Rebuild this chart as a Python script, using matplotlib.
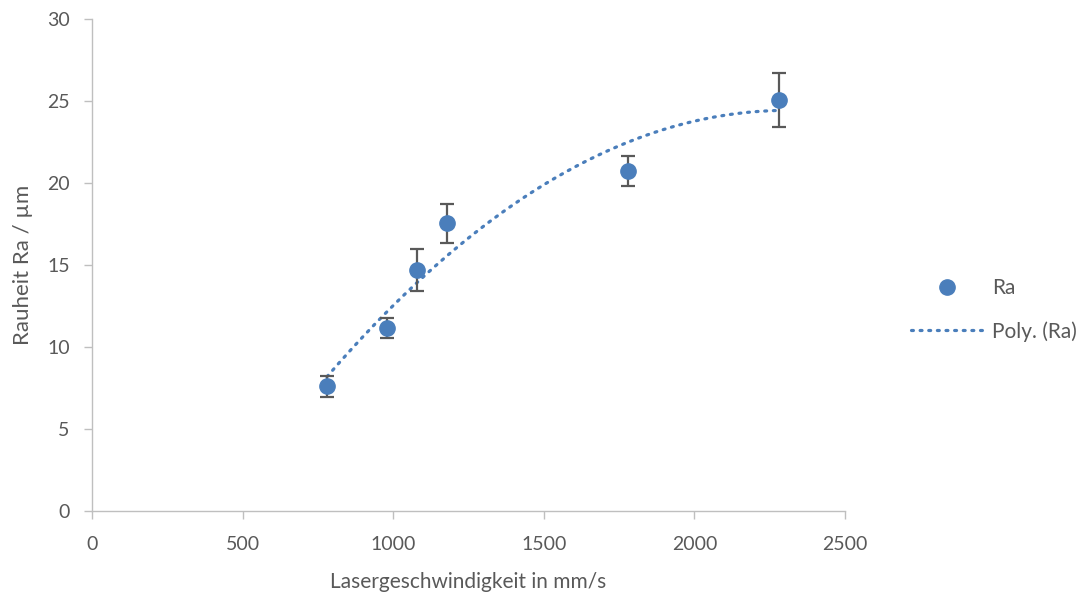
import matplotlib.pyplot as plt
import numpy as np

plt.rcParams["font.family"] = ["Lato", "DejaVu Sans"]

BLUE = "#4a7ebb"
GRAY_TEXT = "#595959"
AXIS_GRAY = "#bfbfbf"

# Measured roughness versus laser speed
speed = np.array([780, 980, 1080, 1180, 1780, 2280])
ra = np.array([7.6, 11.15, 14.7, 17.55, 20.75, 25.05])
ra_err = np.array([0.65, 0.6, 1.3, 1.2, 0.9, 1.65])

x_ticks = [0, 500, 1000, 1500, 2000, 2500]
y_ticks = [0, 5, 10, 15, 20, 25, 30]

fig = plt.figure(figsize=(10.85, 5.96), dpi=100)
ax = fig.add_axes([0.0848, 0.1426, 0.694, 0.8254])

# second-order polynomial trend over the measured range
coef = np.polyfit(speed, ra, 2)
xs = np.linspace(speed.min(), speed.max(), 300)
ax.plot(xs, np.polyval(coef, xs), color=BLUE, linewidth=2.3,
        linestyle=(0, (0.6, 2.1)), dash_capstyle="round", label="Poly. (Ra)",
        zorder=2)

ax.errorbar(speed, ra, yerr=ra_err, fmt="none", ecolor="#595959",
            elinewidth=1.6, capsize=5, capthick=1.6, zorder=3)
ax.plot(speed, ra, "o", color=BLUE, markersize=11, label="Ra", zorder=4)

ax.set_xlim(0, 2500)
ax.set_ylim(0, 30)
ax.set_xticks(x_ticks)
ax.set_yticks(y_ticks)

for side in ("top", "right"):
    ax.spines[side].set_visible(False)
for side in ("left", "bottom"):
    ax.spines[side].set_color(AXIS_GRAY)
    ax.spines[side].set_linewidth(1.0)
ax.tick_params(axis="both", colors=AXIS_GRAY, length=6, width=1.0,
               labelcolor=GRAY_TEXT, labelsize=14)
ax.tick_params(axis="y", pad=10)
ax.tick_params(axis="x", pad=12)

ax.set_xlabel("Lasergeschwindigkeit in mm/s", fontsize=15, color=GRAY_TEXT,
              labelpad=14)
ax.set_ylabel("Rauheit Ra / µm", fontsize=16, color=GRAY_TEXT, labelpad=10)

handles, labels = ax.get_legend_handles_labels()
order = [labels.index("Ra"), labels.index("Poly. (Ra)")]
leg = fig.legend([handles[i] for i in order], [labels[i] for i in order],
                 loc="center left", bbox_to_anchor=(0.822, 0.48), frameon=False,
                 fontsize=15, handlelength=3.5, labelspacing=1.1,
                 handletextpad=0.4)
for text in leg.get_texts():
    text.set_color(GRAY_TEXT)

fig.savefig("out.png", dpi=100)
plt.close(fig)
